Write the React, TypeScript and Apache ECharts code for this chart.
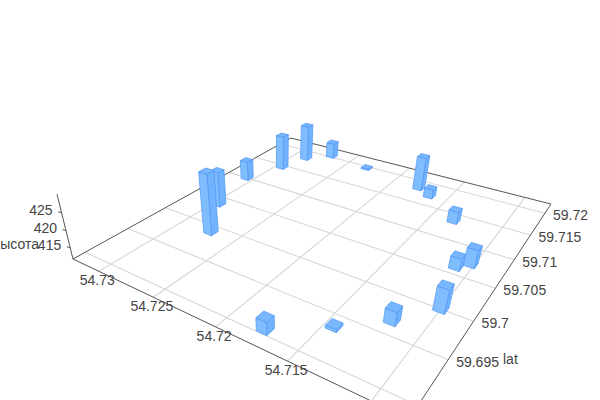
import React, { useEffect, useRef } from "react";
import * as echarts from "echarts";

const barLon = [54.7272, 54.7295, 54.7306, 54.7294, 54.7287, 54.727, 54.7231, 54.7177, 54.7164, 54.7133, 54.7102, 54.7109, 54.71, 54.7119, 54.7144, 54.7175];
const barLat = [59.6989, 59.7036, 59.71, 59.7145, 59.7181, 59.7203, 59.7196, 59.7182, 59.7171, 59.7135, 59.7072, 59.7061, 59.7, 59.6966, 59.6936, 59.6905];
const barHeight = [429.7, 422.5, 417.8, 422.7, 423.3, 416.7, 412, 422.2, 414.5, 415.4, 416.9, 415.2, 418.3, 415.5, 412.4, 415.2];

const lonTicks = [54.73, 54.725, 54.72, 54.715, 54.71];
const latTicks = [59.69, 59.695, 59.7, 59.705, 59.71, 59.715, 59.72];
const heightTicks = [415, 420, 425];
const lonTickLabels = ["54.73", "54.725", "54.72", "54.715"];
const latTickLabels = ["59.69", "59.695", "59.7", "59.705", "59.71", "59.715", "59.72"];
const heightTickLabels = ["415", "420", "425"];

const lonRange = [54.708, 54.7326];
const latRange = [59.6887, 59.7223];
const heightRange = [411.6, 430];

// camera: ground-plane homography and vertical vanishing direction
const cam = { a: 214.3, b: 350.3, c: 73, d: 35.3, e: -58.2, f: 259, g: -0.2976, h: 0.4548, l: -0.0727, vx: 277, vy: 1086 };
const barSizeU = 0.03;
const barSizeV = 0.028;

const FONT = "Liberation Sans";
const LABEL = "#444";
const AXIS = "#555";
const GRID = "#d6d6d6";
const FACE_TOP = "#78b7ff";
const FACE_LEFT = "#80bdff";
const FACE_RIGHT = "#72b3fd";
const EDGE = "#4f95f2";

function proj(u: number, v: number, w: number): number[] {
  const D = cam.g * u + cam.h * v + 1 + cam.l * w;
  return [
    (cam.a * u + cam.b * v + cam.c + cam.l * w * cam.vx) / D,
    (cam.d * u + cam.e * v + cam.f + cam.l * w * cam.vy) / D,
  ];
}
const uOf = (lon: number) => (lonRange[1] - lon) / (lonRange[1] - lonRange[0]);
const vOf = (lat: number) => (lat - latRange[0]) / (latRange[1] - latRange[0]);
const wOf = (h: number) => (h - heightRange[0]) / (heightRange[1] - heightRange[0]);

function face(points: number[][], fill: string, z2: number) {
  return {
    type: "polygon",
    z2,
    shape: { points },
    style: { fill, stroke: EDGE, lineWidth: 0.7, lineJoin: "round" },
  };
}

function renderBar(_: any, api: any) {
  const u = uOf(api.value(0));
  const v = vOf(api.value(1));
  const w = wOf(api.value(2));
  const u0 = u - barSizeU / 2, u1 = u + barSizeU / 2;
  const v0 = v - barSizeV / 2, v1 = v + barSizeV / 2;
  const depth = Math.round((u - v + 1) * 100) * 10 + 100;
  return {
    type: "group",
    children: [
      face([proj(u1, v0, 0), proj(u1, v1, 0), proj(u1, v1, w), proj(u1, v0, w)], FACE_RIGHT, depth),
      face([proj(u0, v0, 0), proj(u1, v0, 0), proj(u1, v0, w), proj(u0, v0, w)], FACE_LEFT, depth + 1),
      face([proj(u0, v0, w), proj(u1, v0, w), proj(u1, v1, w), proj(u0, v1, w)], FACE_TOP, depth + 2),
    ],
  };
}

function line(p: number[], q: number[], stroke: string, lineWidth = 1, z2 = 1) {
  return { type: "line", z2, shape: { x1: p[0], y1: p[1], x2: q[0], y2: q[1] }, style: { stroke, lineWidth } };
}
function text(t: string, x: number, y: number, align: string, z2 = 50) {
  return {
    type: "text",
    z2,
    x,
    y,
    style: { text: t, fill: LABEL, font: `14px "${FONT}"`, align, verticalAlign: "middle" },
  };
}

function renderFrame() {
  const children: any[] = [];
  lonTicks.forEach((t) => {
    const u = uOf(t);
    children.push(line(proj(u, 0, 0), proj(u, 1, 0), GRID, 1.1));
  });
  latTicks.forEach((t) => {
    const v = vOf(t);
    children.push(line(proj(0, v, 0), proj(1, v, 0), GRID, 1.1));
  });
  children.push(line(proj(0, 0, 0), proj(1, 0, 0), AXIS, 1, 5));
  children.push(line(proj(1, 0, 0), proj(1, 1, 0), AXIS, 1, 5));
  children.push(line(proj(1, 1, 0), proj(0, 1, 0), AXIS, 1, 5));
  children.push(line(proj(0, 1, 0), proj(0, 0, 0), AXIS, 1, 5));
  children.push(line(proj(0, 0, 0), proj(0, 0, 1), AXIS, 1, 5));
  heightTicks.forEach((t, i) => {
    const p = proj(0, 0, wOf(t));
    children.push(line(p, [p[0] - 3.5, p[1] - 1], AXIS, 1, 5));
    children.push(text(heightTickLabels[i], p[0] - 9, p[1] - 2.5, "right"));
  });
  lonTickLabels.forEach((s, i) => {
    const p = proj(uOf(lonTicks[i]), 0, 0);
    children.push(text(s, p[0] - 1.5, p[1] + 9, "center", 400));
  });
  latTickLabels.forEach((s, i) => {
    const p = proj(1, vOf(latTicks[i]), 0);
    children.push(text(s, p[0] + 8, p[1] + 2, "left"));
  });
  children.push(text("lat", 503, 359, "left"));
  children.push(text("высота", 39, 244, "right"));
  return { type: "group", children };
}

export default function App() {
  const ref = useRef<HTMLDivElement>(null);
  useEffect(() => {
    document.body.style.margin = "0";
    const chart = echarts.init(ref.current!, undefined, { renderer: "svg" });
    chart.setOption({
      animation: false,
      backgroundColor: "#fff",
      series: [
        {
          type: "custom",
          coordinateSystem: "none",
          silent: true,
          data: [[0]],
          renderItem: renderFrame,
          z: 1,
        },
        {
          type: "custom",
          coordinateSystem: "none",
          silent: true,
          dimensions: ["lon", "lat", "height"],
          data: barLon.map((lon, i) => [lon, barLat[i], barHeight[i]]),
          renderItem: renderBar,
          z: 2,
        },
      ],
    });
    return () => chart.dispose();
  }, []);
  return <div ref={ref} style={{ position: "absolute", left: 0, top: 0, width: 600, height: 400 }} />;
}
